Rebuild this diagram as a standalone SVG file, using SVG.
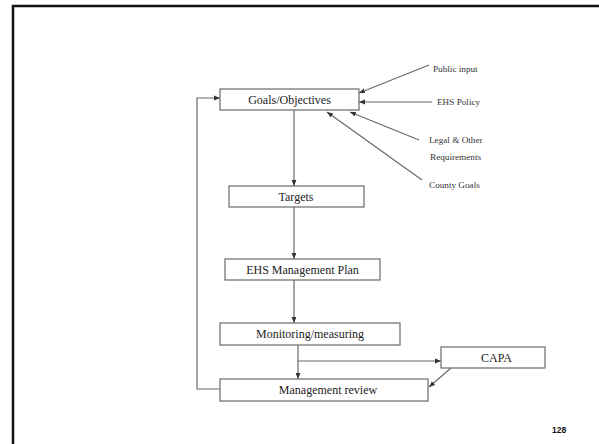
<svg xmlns="http://www.w3.org/2000/svg" width="599" height="444" viewBox="0 0 599 444">
  <defs>
    <marker id="arrow" viewBox="0 0 6 6" refX="6" refY="3" markerWidth="6" markerHeight="6" orient="auto" markerUnits="userSpaceOnUse">
      <path d="M0,0.6 L6,3 L0,5.4 Z" fill="#333"/>
    </marker>
    <style>
      .box { fill: #fff; stroke: #6a6a6a; stroke-width: 1.2; }
      .lbl { font-family: "Liberation Serif", "Times New Roman", serif; font-size: 12px; fill: #222; text-anchor: middle; }
      .src { font-family: "Liberation Serif", "Times New Roman", serif; font-size: 9.2px; fill: #333; }
      .edge { fill: none; stroke: #6a6a6a; stroke-width: 1.2; }
      .arr { marker-end: url(#arrow); }
    </style>
  </defs>

  <rect x="0" y="0" width="599" height="444" fill="#fff"/>
  <!-- slide frame -->
  <path d="M13,444 V6 H599" fill="none" stroke="#111" stroke-width="2.5"/>

  <g id="connectors">
    <path class="edge arr" d="M294,110 V186"/>
    <path class="edge arr" d="M294,207 V259"/>
    <path class="edge arr" d="M294,280 V323"/>
    <path class="edge arr" d="M298,345 V379"/>
    <path class="edge arr" d="M298,361 H441"/>
    <path class="edge arr" d="M451,368 L429,387"/>
    <path class="edge arr" d="M220,389 H197 V98 H220"/>
    <!-- inputs to goals -->
    <path class="edge arr" d="M429,65 L359,93"/>
    <path class="edge arr" d="M432,102 H359"/>
    <path class="edge arr" d="M419,140 L350,112"/>
    <path class="edge arr" d="M422,180 L327,112"/>
  </g>

  <g id="goals">
    <rect class="box" x="220" y="89" width="139" height="21"/>
    <text class="lbl" x="289.5" y="104">Goals/Objectives</text>
  </g>
  <g id="targets">
    <rect class="box" x="229" y="186" width="135" height="21"/>
    <text class="lbl" x="296" y="200.5">Targets</text>
  </g>
  <g id="plan">
    <rect class="box" x="225" y="259" width="155" height="21"/>
    <text class="lbl" x="302.5" y="273.5">EHS Management Plan</text>
  </g>
  <g id="monitoring">
    <rect class="box" x="220" y="323" width="180" height="22"/>
    <text class="lbl" x="310" y="337.5">Monitoring/measuring</text>
  </g>
  <g id="review">
    <rect class="box" x="220" y="379" width="208" height="22"/>
    <text class="lbl" x="328" y="393.5">Management review</text>
  </g>
  <g id="capa">
    <rect class="box" x="441" y="347" width="104" height="21"/>
    <text class="lbl" x="496.5" y="361.5">CAPA</text>
  </g>

  <g id="inputs">
    <text class="src" x="433" y="72">Public input</text>
    <text class="src" x="437" y="105">EHS Policy</text>
    <text class="src" x="429" y="143">Legal &amp; Other</text>
    <text class="src" x="430" y="160">Requirements</text>
    <text class="src" x="429" y="188">County Goals</text>
  </g>

  <text x="552" y="433" font-family="Liberation Sans, Arial, sans-serif" font-size="8.5" font-weight="bold" fill="#111">128</text>
</svg>
